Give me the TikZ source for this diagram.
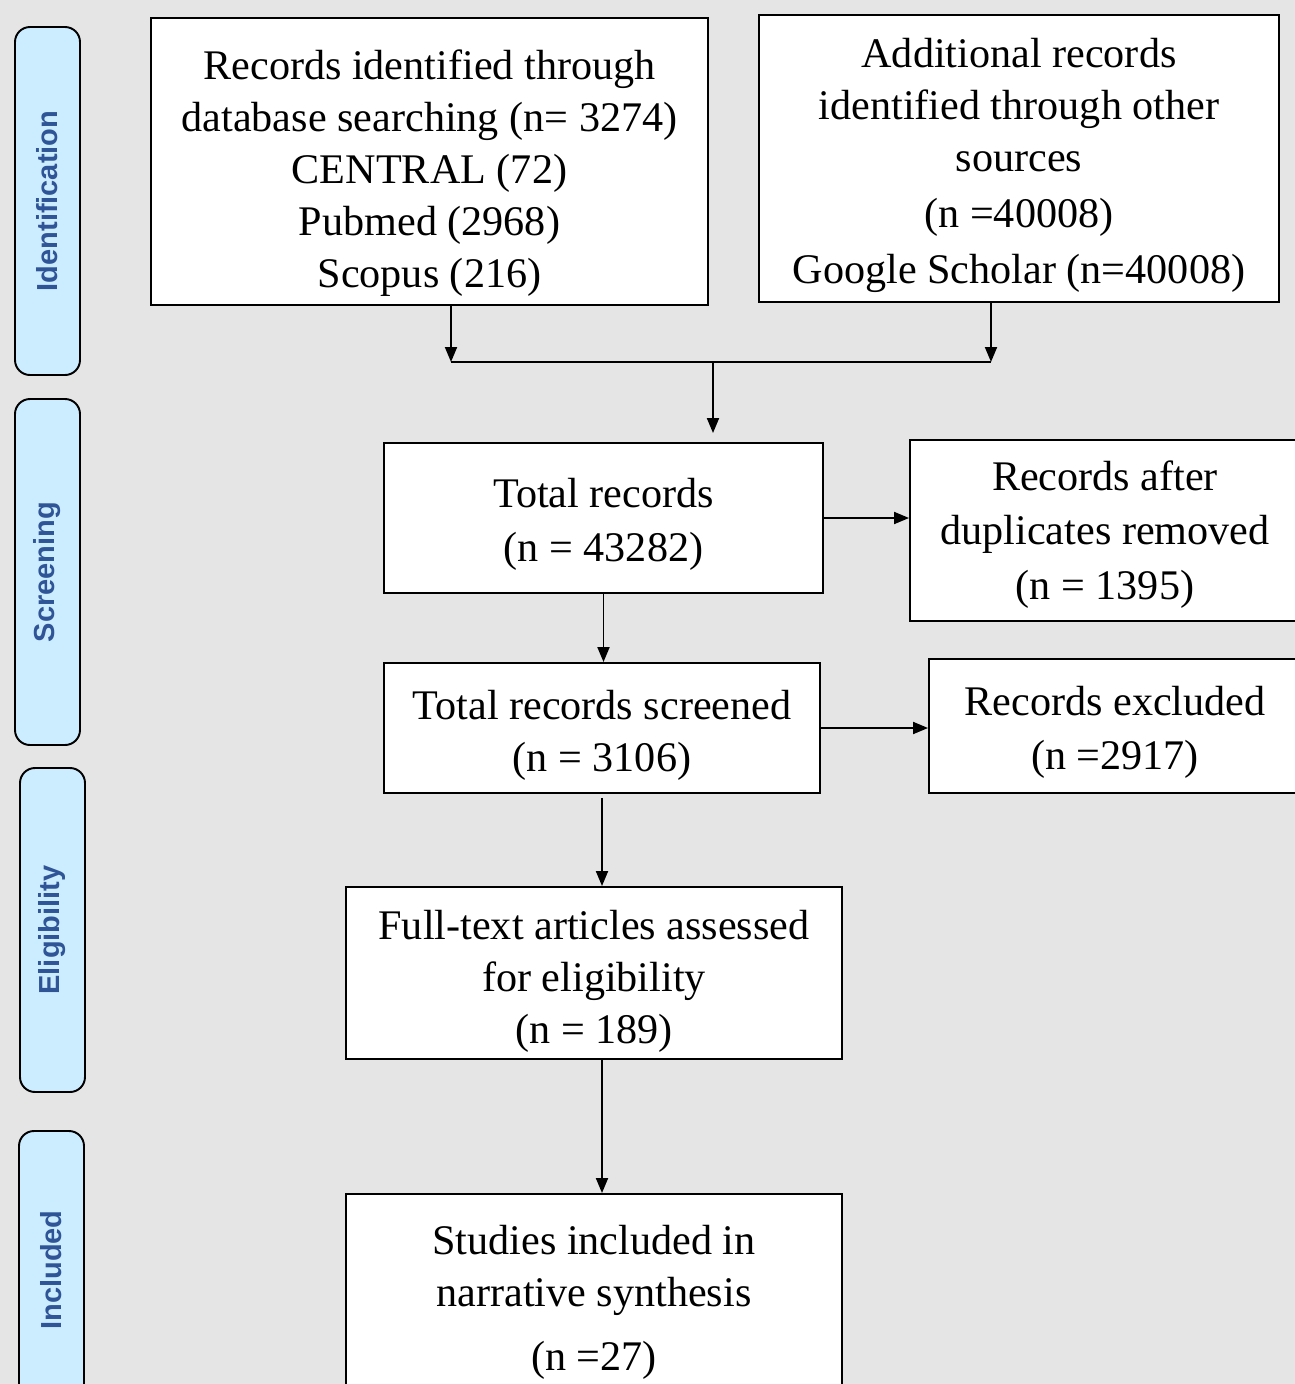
\documentclass[tikz,border=0pt]{standalone}
\usepackage{fontspec}
\setmainfont{Liberation Serif}
\setsansfont{Liberation Sans}
\usetikzlibrary{positioning,arrows.meta}
\definecolor{bggray}{RGB}{229,229,229}
\definecolor{phasefill}{RGB}{204,236,255}
\definecolor{phasetext}{RGB}{47,85,151}
\newcommand{\boxfont}{\fontsize{24}{29.6}\selectfont}
\newcommand{\phasefont}{\sffamily\bfseries\fontsize{16.5}{20}\selectfont}
\newcommand{\lowtext}[2]{\raisebox{-#1}[\height][\depth]{\begin{tabular}{@{}c@{}}#2\end{tabular}}}
\begin{document}
\begin{tikzpicture}[node distance=1.8cm, >={Triangle[length=0.3cm,width=0.24cm]}, line width=1.1pt]
  \tikzstyle{box} = [rectangle, draw, fill=white, font=\boxfont, inner sep=0pt]
  \tikzstyle{phase} = [rectangle, draw, fill=phasefill, rounded corners=0.3cm, text=phasetext, font=\phasefont, rotate=90, minimum height=1.3cm, inner sep=0pt]

  \fill[bggray] (0,0) rectangle (25.9,-27.68);
  \useasboundingbox (0,0) rectangle (25.9,-27.68);

  \node [phase, minimum width=6.96cm] (ident) at (0.95,-4.02) {Identification};
  \node [phase, minimum width=6.92cm] (screen) at (0.95,-11.44) {Screening};
  \node [phase, minimum width=6.48cm] (elig) at (1.05,-18.6) {Eligibility};
  \node [phase, minimum width=5.56cm] (incl) at (1.03,-25.4) {Included};

  \node [box, minimum width=11.14cm, minimum height=5.74cm] (rec) at (8.59,-3.23) {\lowtext{0.24cm}{Records identified through\\database searching (n= 3274)\\CENTRAL (72)\\Pubmed (2968)\\Scopus (216)}};
  \node [box, right of=rec, node distance=11.79cm, yshift=0.06cm, minimum width=10.4cm, minimum height=5.74cm] (add) {\lowtext{0.14cm}{Additional records\\identified through other\\sources\\[0.08cm](n =40008)\\[0.08cm]Google Scholar (n=40008)}};
  \node [box, minimum width=8.78cm, minimum height=3cm] (total) at (12.07,-10.36) {\lowtext{0.12cm}{Total records\\[0.05cm](n = 43282)}};
  \node [box, minimum width=7.8cm, minimum height=3.62cm] (dup) at (22.1,-10.61) {\lowtext{0.08cm}{Records after\\[0.05cm]duplicates removed\\[0.05cm](n = 1395)}};
  \node [box, minimum width=8.72cm, minimum height=2.6cm] (screened) at (12.04,-14.56) {\lowtext{0.14cm}{Total records screened\\(n = 3106)}};
  \node [box, minimum width=7.44cm, minimum height=2.68cm] (excl) at (22.3,-14.52) {\lowtext{0.12cm}{Records excluded\\[0.05cm](n =2917)}};
  \node [box, minimum width=9.92cm, minimum height=3.44cm] (full) at (11.88,-19.46) {\lowtext{0.16cm}{Full-text articles assessed\\for eligibility\\(n = 189)}};
  \node [box, below of=full, node distance=6.48cm, minimum width=9.92cm, minimum height=4.12cm] (stud) {\lowtext{0.1cm}{Studies included in\\narrative synthesis\\[0.25cm](n =27)}};

  \coordinate (jl) at (9.02,-7.24);
  \coordinate (jr) at (19.82,-7.24);
  \coordinate (jm) at (14.26,-7.24);

  \draw[->] (rec.south -| jl) -- (jl);
  \draw[->] (add.south -| jr) -- (jr);
  \draw (jl) -- (jr);
  \draw[->, shorten >=0.18cm] (jm) -- (total.north -| jm);
  \draw[->] (total.east) -- (total.east -| dup.west);
  \draw[->] (total.south) -- (total.south |- screened.north);
  \draw[->] (screened.east) -- (screened.east -| excl.west);
  \draw[->, shorten <=0.08cm] (screened.south) -- (screened.south |- full.north);
  \draw[->] (full.south -| screened.south) -- (stud.north -| screened.south);
\end{tikzpicture}
\end{document}
